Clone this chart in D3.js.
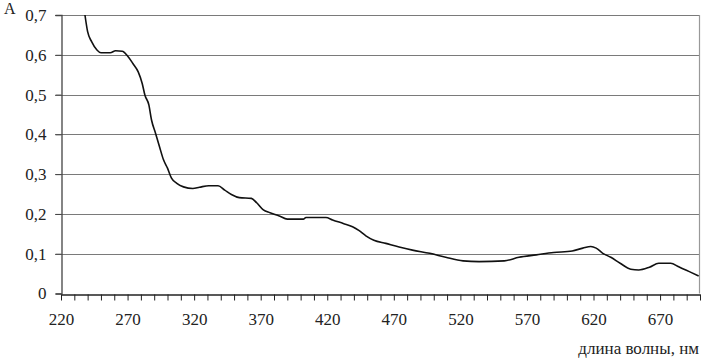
<!DOCTYPE html>
<html>
<head>
<meta charset="utf-8">
<script src="https://cdn.jsdelivr.net/npm/d3@7"></script>
<style>
  body { margin: 0; background: #fff; }
  text { font-family: "Liberation Serif", "Times New Roman", serif; fill: #222; }
</style>
</head>
<body>
<div id="chart"></div>
<script>
// wavelength, nm
const wavelengths = [238, 240, 243, 247, 250, 257, 261, 266, 270, 274, 278, 281, 283, 286, 288, 291, 294, 297, 300, 303, 307, 312, 319, 324, 331, 338, 343, 348, 354, 363, 367, 372, 377, 384, 390, 402, 404, 419, 424, 432, 439, 444, 449, 455, 464, 474, 484, 497, 509, 522, 534, 553, 564, 577, 590, 604, 612, 618, 622, 627, 633, 640, 648, 654, 662, 669, 678, 684, 692, 699];
// absorbance A
const absorbance = [0.700, 0.658, 0.633, 0.612, 0.605, 0.605, 0.610, 0.609, 0.597, 0.578, 0.557, 0.528, 0.499, 0.474, 0.436, 0.403, 0.369, 0.336, 0.315, 0.290, 0.277, 0.268, 0.264, 0.267, 0.271, 0.271, 0.260, 0.249, 0.241, 0.239, 0.228, 0.210, 0.203, 0.195, 0.187, 0.187, 0.191, 0.191, 0.185, 0.176, 0.168, 0.158, 0.145, 0.134, 0.126, 0.117, 0.109, 0.101, 0.091, 0.082, 0.080, 0.082, 0.091, 0.097, 0.103, 0.107, 0.114, 0.118, 0.114, 0.101, 0.091, 0.076, 0.061, 0.059, 0.066, 0.076, 0.076, 0.067, 0.055, 0.044];
const yTicks = [0, 0.1, 0.2, 0.3, 0.4, 0.5, 0.6, 0.7];
const xLabels = [220, 270, 320, 370, 420, 470, 520, 570, 620, 670];

const width = 705, height = 362;
const svg = d3.select("#chart").append("svg")
  .attr("width", width)
  .attr("height", height);

const x = d3.scaleLinear().domain([220, 700]).range([61, 700]);
const y = d3.scaleLinear().domain([0, 0.7]).range([293.5, 15]);

const ru = d3.formatLocale({ decimal: ",", thousands: " ", grouping: [3], currency: ["", ""] });
const fmt = (d) => (d === 0 ? "0" : ru.format(".1f")(d));

// horizontal grid lines
svg.append("g")
  .selectAll("line")
  .data(yTicks.filter((d) => d > 0))
  .enter()
  .append("line")
  .attr("x1", 55)
  .attr("x2", x(700))
  .attr("y1", (d) => Math.round(y(d)) + 0.5)
  .attr("y2", (d) => Math.round(y(d)) + 0.5)
  .attr("stroke", "#7a7a7a")
  .attr("stroke-width", 1.2);

// right border
svg.append("line")
  .attr("x1", x(700) - 0.5).attr("x2", x(700) - 0.5)
  .attr("y1", y(0.7)).attr("y2", y(0))
  .attr("stroke", "#999").attr("stroke-width", 1.2);

// y axis
const yAxis = svg.append("g")
  .attr("transform", "translate(61.5,0)")
  .call(d3.axisLeft(y).tickValues(yTicks).tickSize(6).tickFormat(fmt));
yAxis.select(".domain").attr("stroke", "#444").attr("stroke-width", 1.3);
yAxis.selectAll(".tick line").attr("stroke", "#444");
yAxis.selectAll("text")
  .attr("x", -15)
  .style("font-size", "17px")
  .style("fill", "#222");

// x axis
const xAxis = svg.append("g")
  .attr("transform", `translate(0,${Math.round(y(0)) + 0.5})`)
  .call(
    d3.axisBottom(x)
      .tickValues(d3.range(220, 701, 10))
      .tickSize(6)
      .tickSizeOuter(0)
      .tickFormat((d) => (xLabels.includes(d) ? d : ""))
  );
xAxis.select(".domain").attr("stroke", "#222").attr("stroke-width", 1.3);
xAxis.selectAll(".tick line").attr("stroke", "#222");
xAxis.selectAll("text")
  .attr("y", 18)
  .style("font-size", "17px")
  .style("fill", "#222");

// spectrum curve
const points = wavelengths.map((w, i) => [w, absorbance[i]]);
const line = d3.line()
  .x((d) => x(d[0]))
  .y((d) => y(d[1]))
  .curve(d3.curveMonotoneX);

svg.append("path")
  .datum(points)
  .attr("d", line)
  .attr("fill", "none")
  .attr("stroke", "#111")
  .attr("stroke-width", 1.6);

// axis titles
svg.append("text")
  .attr("x", 4)
  .attr("y", 14)
  .style("font-size", "16px")
  .text("A");

svg.append("text")
  .attr("x", 699)
  .attr("y", 354)
  .attr("text-anchor", "end")
  .style("font-size", "17px")
  .text("длина волны, нм");
</script>
</body>
</html>
